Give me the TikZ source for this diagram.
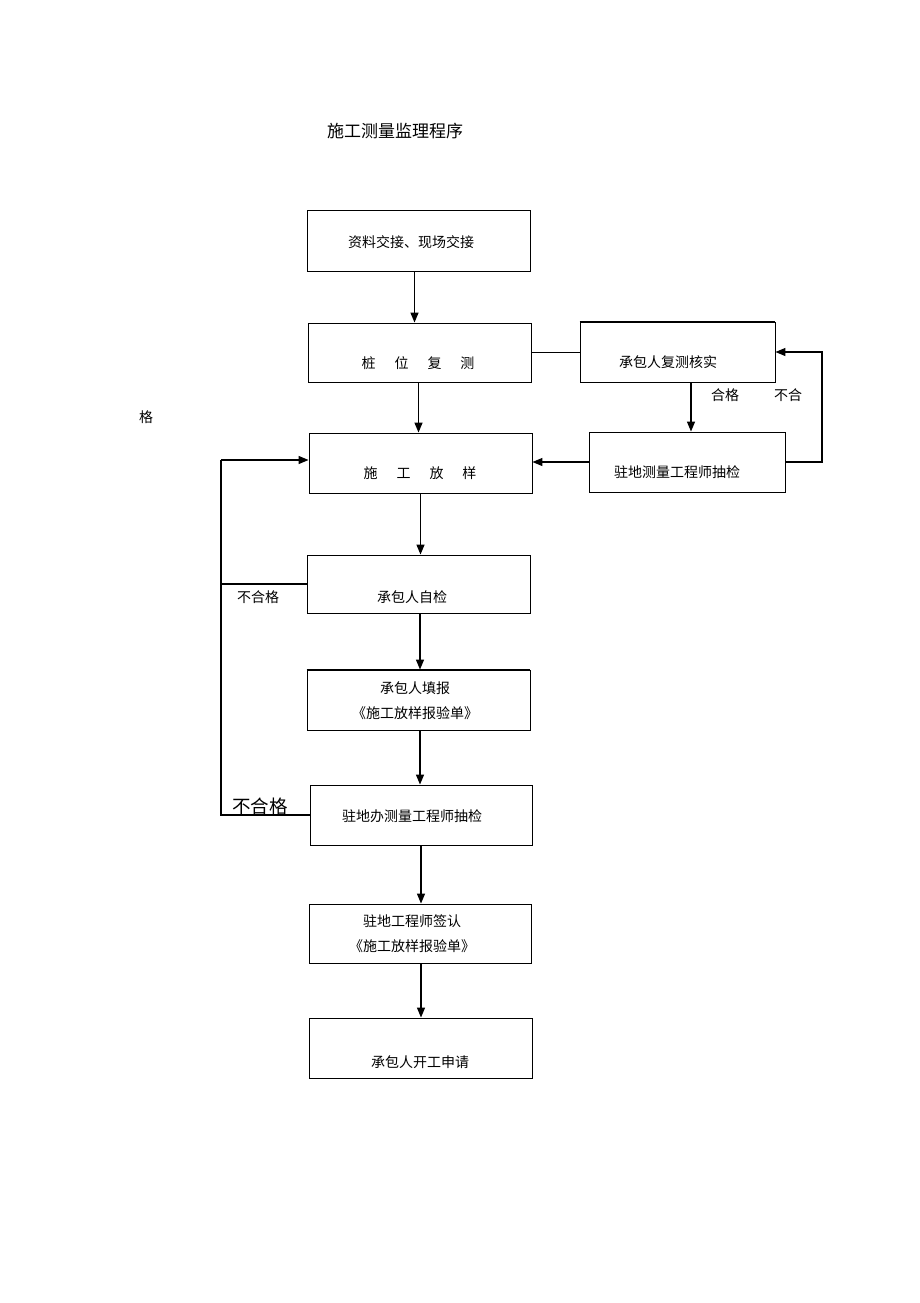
\documentclass[tikz,border=0pt]{standalone}
\usepackage{fontspec}
\setmainfont{Noto Sans CJK SC}
\usetikzlibrary{arrows.meta}
\begin{document}
\begin{tikzpicture}[x=1pt, y=-1pt,
  procbox/.style={draw, line width=0.9pt, minimum width=#1, minimum height=60pt, inner sep=0pt},
  procbox/.default=223pt,
  flow/.style={line width=1.3pt, -{Triangle[length=10pt,width=8pt]}},
  link/.style={line width=1.1pt},
  txt/.style={font=\fontsize{14pt}{25pt}\selectfont, align=center, inner sep=0pt}]

\newcommand\GAP{\hspace{19pt}}

\useasboundingbox (0,0) rectangle (920,1303);

%% title
\node[txt, font=\fontsize{17pt}{20pt}\selectfont] (title) at (395,131) {施工测量监理程序};

%% main column
\node[procbox, minimum height=61pt] (zl) at (418.5,240.5) {};
\node[txt] (zltext) at (411,242) {资料交接、现场交接};

\node[procbox, minimum height=59pt] (fc) at (419.5,352.5) {};
\node[txt] (fctext) at (418,363) {桩\GAP 位\GAP 复\GAP 测};

\node[procbox] (fy) at (420.5,463) {};
\node[txt] (fytext) at (420,473) {施\GAP 工\GAP 放\GAP 样};

\node[procbox, minimum height=58pt] (zj) at (418.5,584) {};
\node[txt] (zjtext) at (412,597) {承包人自检};

\node[procbox] (tb) at (418.5,700) {};
\draw[line width=1.6pt] (tb.north west) -- (tb.north east);
\node[txt] (tbtext) at (415,700.5) {承包人填报\\《施工放样报验单》};

\node[procbox, minimum width=222pt] (cj2) at (421,815) {};
\node[txt] (cj2text) at (412,816) {驻地办测量工程师抽检};

\node[procbox, minimum width=222pt, minimum height=59pt] (qr) at (420,933.5) {};
\node[txt] (qrtext) at (412,934) {驻地工程师签认\\《施工放样报验单》};

\node[procbox] (kg) at (420.5,1048) {};
\node[txt] (kgtext) at (420,1062) {承包人开工申请};

%% right column
\node[procbox, minimum width=195pt] (hs) at (677.5,352) {};
\draw[line width=1.6pt] (hs.north west) -- (hs.north east);
\node[txt] (hstext) at (668,362) {承包人复测核实};

\node[procbox, minimum width=196pt] (cj) at (687,462) {};
\node[txt] (cjtext) at (677,472) {驻地测量工程师抽检};

%% main flow
\draw[flow] ([xshift=-4pt]zl.south) -- ([xshift=-4pt]zl.south |- fc.north);
\draw[flow] ([xshift=-1pt]fc.south) -- ([xshift=-1pt]fc.south |- fy.north);
\draw[flow] (fy.south) -- (fy.south |- zj.north);
\draw[flow] ([xshift=1.5pt]zj.south) -- ([xshift=1.5pt]zj.south |- tb.north);
\draw[flow] ([xshift=1.5pt]tb.south) -- ([xshift=1.5pt]tb.south |- cj2.north);
\draw[flow] (cj2.south) -- (cj2.south |- qr.north);
\draw[flow] ([xshift=1pt]qr.south) -- ([xshift=1pt]qr.south |- kg.north);

%% right loop
\draw[link] (fc.east) -- (fc.east -| hs.west);
\draw[flow] ([xshift=13.5pt]hs.south) -- ([xshift=13.5pt]hs.south |- cj.north);
\node[txt] (hg) at (725,395) {合格};
\node[txt] (bh) at (788,395) {不合};
\coordinate (rc) at (822,462);
\draw[flow] (cj.east) -- (rc) -- (rc |- hs.east) -- (hs.east);
\draw[flow] (cj.west) -- (cj.west -| fy.east);

%% left loop
\coordinate (lt) at (221,460);
\draw[link] (cj2.west) -- (cj2.west -| lt) -- (lt);
\draw[flow] (lt) -- (lt -| fy.west);
\draw[link] (zj.west) -- (zj.west -| lt);
\node[txt] (bhg1) at (258,597) {不合格};
\node[txt, font=\fontsize{18.5pt}{20pt}\selectfont] (bhg2) at (260,806) {不合格};
\node[txt] (ge) at (146,417) {格};

\end{tikzpicture}
\end{document}
